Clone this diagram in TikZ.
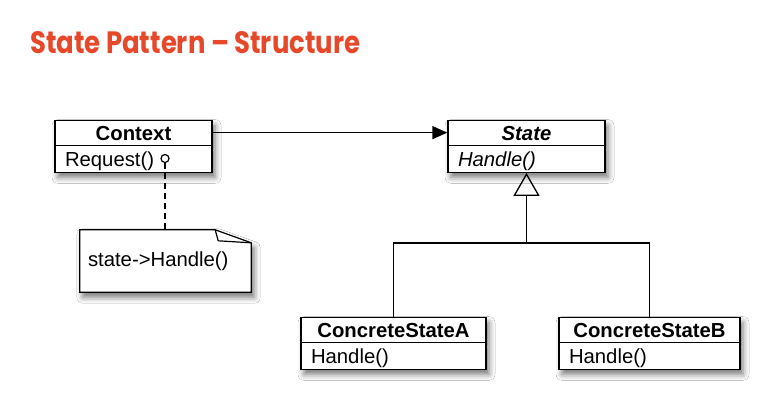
\documentclass[tikz,border=0pt]{standalone}
\usepackage{fontspec}
\setmainfont{Liberation Sans}
\newfontfamily\titlefont{Poppins}
\usetikzlibrary{shapes.multipart,shadows.blur,arrows.meta,calc}
\definecolor{titlecol}{RGB}{232,72,42}
\newcommand\clshead[2]{\makebox[#1][c]{\rule[-4pt]{0pt}{23.3pt}#2}}
\newcommand\clsop[2]{\makebox[#1][l]{\rule[-5pt]{0pt}{25.7pt}\hspace{10pt}#2}}
\tikzset{
  myshadow/.style={blur shadow={shadow xshift=3pt, shadow yshift=-5pt, shadow blur radius=6pt, shadow opacity=55}},
  cls/.style={rectangle split, rectangle split parts=2, draw, fill=white,
    line width=1.3pt, inner sep=0pt, anchor=north, myshadow},
  conn/.style={line width=1.3pt},
  notebox/.style={inner sep=0pt, minimum width=171pt, minimum height=62pt},
}
\begin{document}
\begin{tikzpicture}[x=1pt,y=-1pt,font=\fontsize{20.3}{24}\selectfont]
\fill[white] (0,0) rectangle (783,416);
\useasboundingbox (0,0) rectangle (783,416);
% title
\node[anchor=base west, text=titlecol, inner sep=0pt] (title) at (30,53)
  {\resizebox{330pt}{22pt}{\titlefont\bfseries State Pattern – Structure}};
% classes
\node[cls] (ctx) at (133.5,120)
  {\clshead{157pt}{\bfseries Context}\nodepart{two}\clsop{157pt}{Request()}};
\node[cls] (st) at (526.5,120)
  {\clshead{157pt}{\bfseries\itshape State}\nodepart{two}\clsop{157pt}{\itshape Handle()}};
\node[cls] (csa) at (393.5,317)
  {\clshead{185pt}{\bfseries ConcreteStateA}\nodepart{two}\clsop{185pt}{Handle()}};
\node[cls] (csb) at (649.5,317)
  {\clshead{181pt}{\bfseries ConcreteStateB}\nodepart{two}\clsop{181pt}{Handle()}};
% association
\coordinate (a1) at ($(ctx.north east)!0.5!(ctx.text split east)$);
\draw[conn, -{Triangle[length=15pt,width=13pt]}] (a1) -- (a1 -| st.west);
% inheritance
\coordinate (j) at (526.5,243);
\draw[conn] (csa.north) |- (j) -| (csb.north);
\draw[conn, -{Triangle[open, length=23pt, width=26pt, line width=1.3pt]}] (j) -- (st.south);
% note
\node[notebox] (nt) at (165.5,261) {};
\draw[line width=1.2pt, fill=white, myshadow]
  (nt.north west) -- ([xshift=-36pt]nt.north east) -- ([yshift=-13pt]nt.north east)
  -- (nt.south east) -- (nt.south west) -- cycle;
\draw[line width=1.2pt] ([xshift=-36pt]nt.north east) -- ([xshift=-33pt,yshift=-11pt]nt.north east)
  -- ([yshift=-13pt]nt.north east);
\node[inner sep=0pt] (ntx) at (nt.center) {\makebox[155pt][l]{state->Handle()}};
\node[circle, draw, fill=white, line width=1.2pt, minimum size=8pt, inner sep=0pt] (ball) at (165,158.5) {};
\draw[conn, dash pattern=on 6pt off 4pt] (ball.south) -- (ball.south |- nt.north);
\end{tikzpicture}
\end{document}
